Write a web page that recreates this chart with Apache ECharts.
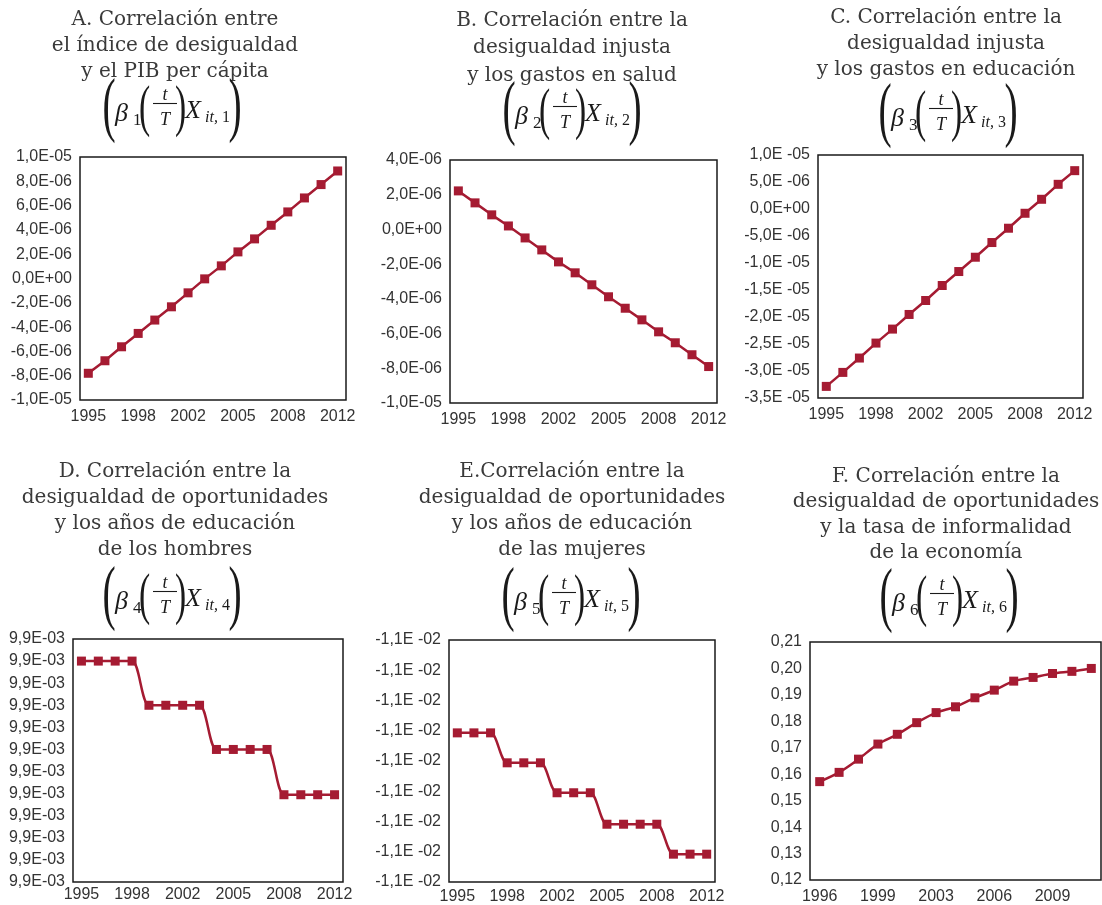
<!DOCTYPE html>
<html><head><meta charset="utf-8">
<script src="https://cdn.jsdelivr.net/npm/echarts@6/dist/echarts.min.js"></script>
<style>html,body{margin:0;padding:0;background:#fff}#c{width:1102px;height:905px}</style>
</head><body><div id="c"></div>
<script>
// ---- data ----
var yearsAE = ['1995','1996','1997','1998','1999','2001','2002','2003','2004','2005','2006','2007','2008','2009','2011','2012'];
var yearsF = ['1996','1997','1998','1999','2000','2002','2003','2004','2005','2006','2007','2008','2009','2010','2011'];
var valuesA = [-7.80e-6,-6.77e-6,-5.62e-6,-4.52e-6,-3.42e-6,-2.33e-6,-1.18e-6,-0.03e-6,1.04e-6,2.19e-6,3.26e-6,4.38e-6,5.48e-6,6.63e-6,7.73e-6,8.85e-6];
var valuesB = [2.22e-6,1.53e-6,0.84e-6,0.20e-6,-0.49e-6,-1.18e-6,-1.87e-6,-2.50e-6,-3.19e-6,-3.88e-6,-4.54e-6,-5.21e-6,-5.90e-6,-6.53e-6,-7.22e-6,-7.90e-6];
var valuesC = [-32.85e-6,-30.26e-6,-27.60e-6,-24.83e-6,-22.24e-6,-19.53e-6,-16.94e-6,-14.17e-6,-11.58e-6,-8.93e-6,-6.21e-6,-3.56e-6,-0.79e-6,1.80e-6,4.57e-6,7.10e-6];
var valuesD = [0.00990001,0.00990001,0.00990001,0.00990001,0.009900008,0.009900008,0.009900008,0.009900008,0.009900006,0.009900006,0.009900006,0.009900006,0.00990000395,0.00990000395,0.00990000395,0.00990000395];
var valuesE = [-0.01100000307,-0.01100000307,-0.01100000307,-0.01100000406,-0.01100000406,-0.01100000406,-0.01100000505,-0.01100000505,-0.01100000505,-0.01100000609,-0.01100000609,-0.01100000609,-0.01100000609,-0.01100000708,-0.01100000708,-0.01100000708];
var valuesF = [0.1572,0.1607,0.1657,0.1714,0.1751,0.1795,0.1833,0.1855,0.1889,0.1918,0.1952,0.1966,0.1981,0.1989,0.2000];

var titlesText = [
 'A. Correlación entre\nel índice de desigualdad\ny el PIB per cápita',
 'B. Correlación entre la\ndesigualdad injusta\ny los gastos en salud',
 'C. Correlación entre la\ndesigualdad injusta\ny los gastos en educación',
 'D. Correlación entre la\ndesigualdad de oportunidades\ny los años de educación\nde los hombres',
 'E.Correlación entre la\ndesigualdad de oportunidades\ny los años de educación\nde las mujeres',
 'F. Correlación entre la\ndesigualdad de oportunidades\ny la tasa de informalidad\nde la economía'
];
var formulaIdx = ['1','2','3','4','5','6'];

// ---- formatting ----
function sci(space){
  return function(v){
    if (Math.abs(v) < 1e-15) return '0,0E+00';
    var s = v.toExponential(1);
    var parts = s.split('e');
    var m = parts[0].replace('.', ',');
    var e = parseInt(parts[1], 10);
    var sign = e < 0 ? '-' : '+';
    var ae = Math.abs(e);
    return m + 'E' + (space && sign === '-' ? ' ' : '') + sign + (ae < 10 ? '0' : '') + ae;
  };
}
function dec2(v){ return v.toFixed(2).replace('.', ','); }

var grids = [
 {left:80, top:157, width:266, height:243},
 {left:450, top:160, width:267, height:243},
 {left:818, top:155, width:265, height:243},
 {left:73, top:639, width:270, height:243},
 {left:449, top:640, width:266, height:243},
 {left:810, top:642, width:291, height:242}
];
var xMargins = [9,9,9,5,7,9];
var yCfg = [
 {min:-1e-5, max:1e-5, interval:2e-6, fmt:sci(false)},
 {min:-1e-5, max:4e-6, interval:2e-6, fmt:sci(false)},
 {min:-3.5e-5, max:1e-5, interval:5e-6, fmt:sci(true)},
 {min:0.0099, max:0.009900011, interval:1e-9, fmt:sci(false)},
 {min:-0.011000008, max:-0.011, interval:1e-9, fmt:sci(true)},
 {min:0.12, max:0.21, interval:0.01, fmt:dec2}
];
var seriesData = [valuesA, valuesB, valuesC, valuesD, valuesE, valuesF];
var cats = [yearsAE, yearsAE, yearsAE, yearsAE, yearsAE, yearsF];
var smooth = [false,false,false,0.3,0.3,0.3];

var RED = '#a51b32';
var option = {
  animation:false,
  backgroundColor:'#fff',
  grid: grids.map(function(g){ return Object.assign({show:true, borderColor:'#1a1a1a', borderWidth:1.5, backgroundColor:'transparent', containLabel:false}, g); }),
  xAxis: grids.map(function(g,i){ return {
    type:'category', gridIndex:i, data:cats[i], boundaryGap:true,
    axisLine:{show:false}, axisTick:{show:false}, splitLine:{show:false},
    axisLabel:{interval:2, color:'#333', fontFamily:'Liberation Sans', fontSize:16, margin:xMargins[i]}
  };}),
  yAxis: grids.map(function(g,i){ var c=yCfg[i]; return {
    type:'value', gridIndex:i, min:c.min, max:c.max, interval:c.interval, scale:true,
    axisLine:{show:false}, axisTick:{show:false}, splitLine:{show:false},
    axisLabel:{formatter:c.fmt, color:'#333', fontFamily:'Liberation Sans', fontSize:16, margin:8, showMinLabel:true, showMaxLabel:true}
  };}),
  series: seriesData.map(function(d,i){ return {
    type:'line', xAxisIndex:i, yAxisIndex:i, data:d, smooth:smooth[i],
    symbol:'rect', symbolSize:9, showSymbol:true,
    lineStyle:{color:RED, width:2.5}, itemStyle:{color:RED}
  };}),
  graphic: []
};

// titles
var titlePos = [[175,7,26],[572,7,27.5],[946,5,26],[175,459,26],[572,459,25.8],[946,464,25.5]];
titlePos.forEach(function(p,i){
  option.graphic.push({type:'text', silent:true, x:p[0], y:p[1], style:{
    text:titlesText[i], x:0, y:0, align:'center', textAlign:'center', verticalAlign:'top', textVerticalAlign:'top',
    fontFamily:'DejaVu Serif', fontSize:20, lineHeight:p[2], fill:'#3a3a3a'
  }});
});

// formulas
var formPos = [[172,112],[572,115],[948,117],[172,600],[571,601],[949,602]];
function txt(t, x, y, size, italic, align, sx){
  return {type:'text', silent:true, x:x, y:y, scaleX:sx||1, style:{text:t, x:0, y:0, align:align||'left', textAlign:align||'left',
    verticalAlign:'middle', textVerticalAlign:'middle',
    fontFamily:'Liberation Serif', fontSize:size, fontStyle:italic?'italic':'normal', fill:'#1a1a1a'}};
}
formPos.forEach(function(p,i){
  var cx=p[0], cy=p[1];
  var els = [
    txt('(', cx-63, cy-3, 72, false, 'center', 0.55),
    txt('β', cx-57, cy+2, 26, true),
    txt(formulaIdx[i], cx-39, cy+9, 17, false),
    txt('(', cx-27.5, cy-2, 56, false, 'center', 0.6),
    txt('t', cx-7, cy-17, 18, true, 'center'),
    txt('T', cx-7, cy+8, 18, true, 'center'),
    txt(')', cx+8.5, cy-2, 56, false, 'center', 0.6),
    txt('X', cx+13, cy-1, 26, true),
    txt('it,', cx+33, cy+6, 16, true),
    txt(formulaIdx[i], cx+50, cy+6, 16, false),
    txt(')', cx+63, cy-3, 72, false, 'center', 0.55)
  ];
  els.push({type:'line', silent:true, shape:{x1:cx-19, y1:cy-8.5, x2:cx+5, y2:cy-8.5}, style:{stroke:'#1a1a1a', lineWidth:1.1}});
  els.forEach(function(e){ option.graphic.push(e); });
});

var chart = echarts.init(document.getElementById('c'), null, {renderer:'canvas'});
chart.setOption(option);
</script></body></html>
